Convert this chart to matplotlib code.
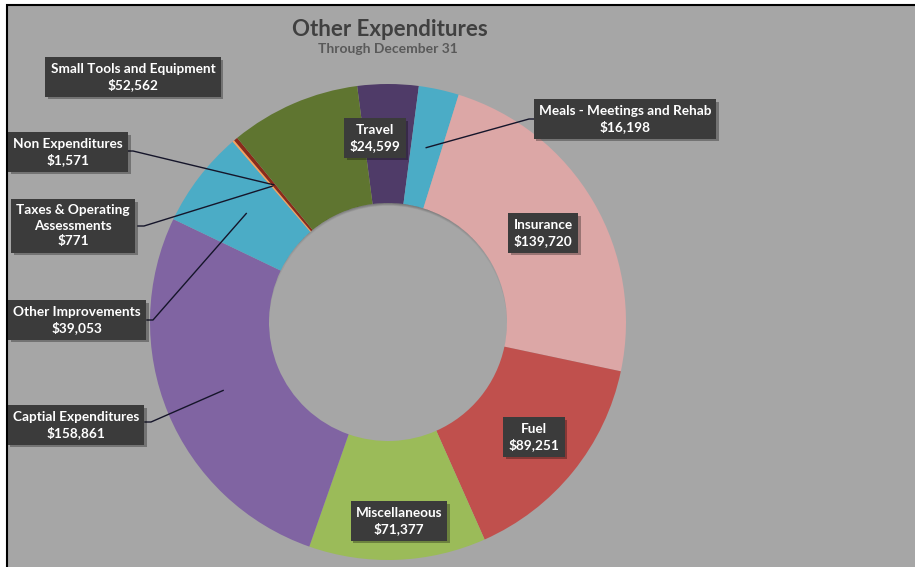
import numpy as np
import matplotlib.pyplot as plt
import matplotlib.patheffects as pe
from matplotlib.patches import Rectangle, Circle, Wedge

categories = ['Travel', 'Meals - Meetings and Rehab', 'Insurance', 'Fuel', 'Miscellaneous',
              'Captial Expenditures', 'Other Improvements', 'Taxes & Operating Assessments',
              'Non Expenditures', 'Small Tools and Equipment']
amounts = [24599, 16198, 139720, 89251, 71377, 158861, 39053, 771, 1571, 52562]
colors = ['#4f3b68', '#4bacc6', '#dca7a6', '#c0504d', '#9bbb59',
          '#8064a2', '#4bacc6', '#f7a35c', '#8b2b1a', '#5f7530']

# label box centre in pixels, and the point where the leader line meets the box
label_layout = {
    'Travel': ((375, 138), None),
    'Meals - Meetings and Rehab': ((625, 119), (535, 119)),
    'Insurance': ((543, 233), None),
    'Fuel': ((534, 437), None),
    'Miscellaneous': ((399, 521), None),
    'Captial Expenditures': ((76, 425), (145, 422)),
    'Other Improvements': ((77, 320), (147, 320)),
    'Taxes & Operating Assessments': ((73, 226), (138, 226)),
    'Non Expenditures': ((68, 152), (127, 151)),
    'Small Tools and Equipment': ((133, 77), None),
}
wrap = {'Taxes & Operating Assessments': 'Taxes & Operating\nAssessments'}

W, H = 915, 567
CX, CY, R = 388, 322, 238
BG = '#a6a6a6'


def px(x, y):
    return (x - CX) / R, (CY - y) / R


fig = plt.figure(figsize=(W / 100, H / 100), dpi=100, facecolor='white')
ax = fig.add_axes([0, 0, 1, 1])
ax.set_axis_off()

# grey chart area, black frame visible on top and left only
x0, y0 = px(7, 5)
x1, y1 = px(W + 10, H + 10)
ax.add_patch(Rectangle((x0, y1), x1 - x0, y0 - y1, facecolor=BG,
                       edgecolor='none', zorder=0))
ax.plot([x0, x0, x1], [y1, y0, y0], color='black', lw=1.5, zorder=1,
        solid_joinstyle='miter')

total = sum(amounts)
start = 90 + amounts[0] / total * 180
ax.pie(amounts, colors=colors, startangle=start, counterclock=False, radius=1,
       wedgeprops=dict(width=0.5, linewidth=0))

# soft inner shadow in the hole
hole = Circle((0, 0), 0.5, transform=ax.transData)
for k in range(6):
    sh = Wedge((0, -0.012 - 0.006 * k), 0.9, 0, 360, width=0.4 - 0.008 * k,
               facecolor='black', edgecolor='none', alpha=0.05, zorder=2)
    ax.add_patch(sh)
    sh.set_clip_path(hole)

# mid-ring anchor of each slice
cum = np.cumsum([0] + amounts[:-1])
mids = np.radians(start - 360 * (cum + np.array(amounts) / 2) / total)

for i, name in enumerate(categories):
    (bx, by), attach = label_layout[name]
    text = wrap.get(name, name) + '\n$' + format(amounts[i], ',')
    if attach is not None:
        axx, axy = 0.75 * np.cos(mids[i]), 0.75 * np.sin(mids[i])
        ex, ey = px(*attach)
        side = 1 if attach[0] > bx else -1
        kx, _ = px(attach[0] + side * 6, attach[1])
        ax.plot([axx, kx, ex], [axy, ey, ey], color='#15152a', lw=1, zorder=3)
    t = ax.text(*px(bx, by), text, ha='center', va='center', color='white',
                fontsize=9.8, fontweight='bold', family=['Lato', 'DejaVu Sans'],
                linespacing=1.35, zorder=5,
                bbox=dict(boxstyle='square,pad=0.38', fc='#3b3b3b', ec='none'))
    t.get_bbox_patch().set_path_effects([
        pe.SimplePatchShadow(offset=(2, -2), shadow_rgbFace='black', alpha=0.3),
        pe.Normal()])

ax.text(*px(390, 29), 'Other Expenditures', ha='center', va='center',
        fontsize=16, fontweight='bold', color='#404040', family=['Lato', 'DejaVu Sans'])
ax.text(*px(388, 49), 'Through December 31', ha='center', va='center',
        fontsize=10, fontweight='bold', color='#595959', family=['Lato', 'DejaVu Sans'])

ax.set_xlim(px(0, 0)[0], px(W, 0)[0])
ax.set_ylim(px(0, H)[1], px(0, 0)[1])
ax.set_aspect('auto')

fig.savefig('out.png', dpi=100, facecolor='white')
